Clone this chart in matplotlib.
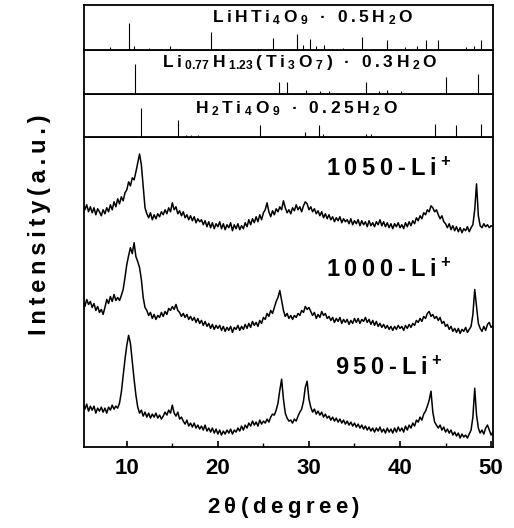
import re
import numpy as np
import matplotlib
matplotlib.use('Agg')
import matplotlib.pyplot as plt

plt.rcParams['font.family'] = ['Liberation Sans', 'DejaVu Sans']
plt.rcParams['mathtext.fontset'] = 'custom'
plt.rcParams['mathtext.rm'] = 'Liberation Sans'
plt.rcParams['mathtext.bf'] = 'Liberation Sans:bold'
plt.rcParams['mathtext.default'] = 'regular'

# scan grid, 2theta from 5.2 to 50.2 in 0.2 deg steps
two_theta = np.round(5.2 + 0.2 * np.arange(226), 1)

# intensities (arbitrary units)
i_1050 = [244, 238, 243, 236, 241, 235, 240, 233, 239, 236,
          232, 238, 234, 240, 236, 243, 238, 246, 241, 249,
          244, 251, 247, 255, 258, 266, 262, 270, 268, 276,
          285, 294, 283, 262, 240, 234, 230, 235, 228, 233,
          229, 234, 231, 236, 233, 238, 234, 240, 236, 245,
          238, 241, 234, 237, 232, 236, 230, 233, 228, 232,
          227, 231, 225, 229, 226, 228, 223, 227, 221, 226,
          220, 225, 219, 224, 221, 226, 219, 224, 218, 223,
          220, 225, 217, 223, 219, 224, 218, 222, 219, 225,
          221, 228, 223, 229, 225, 231, 226, 233, 228, 235,
          238, 245, 236, 231, 237, 233, 239, 236, 241, 238,
          247, 240, 235, 238, 234, 240, 237, 243, 238, 241,
          236, 242, 246, 244, 238, 241, 236, 239, 234, 237,
          232, 236, 230, 234, 229, 233, 228, 231, 226, 230,
          227, 231, 225, 229, 226, 228, 224, 229, 223, 227,
          224, 228, 222, 227, 223, 226, 221, 227, 222, 225,
          221, 226, 223, 228, 222, 226, 221, 225, 220, 224,
          219, 224, 221, 225, 220, 223, 219, 225, 221, 226,
          222, 227, 224, 230, 227, 232, 229, 235, 233, 238,
          236, 242, 240, 236, 238, 233, 229, 232, 226, 224,
          220, 224, 218, 222, 217, 221, 216, 220, 215, 219,
          217, 221, 216, 220, 223, 238, 264, 232, 222, 220,
          224, 221, 223, 220, 222, 221]

i_1000 = [147, 141, 148, 143, 146, 140, 144, 137, 141, 135,
          138, 133, 140, 148, 144, 151, 146, 153, 147, 150,
          147, 152, 158, 170, 183, 192, 200, 194, 205, 191,
          186, 180, 168, 150, 140, 137, 132, 135, 129, 133,
          128, 132, 130, 135, 131, 136, 133, 139, 137, 141,
          138, 143, 137, 135, 131, 134, 130, 133, 128, 131,
          127, 130, 125, 129, 124, 127, 122, 126, 121, 124,
          119, 123, 118, 122, 119, 122, 117, 121, 116, 120,
          117, 121, 115, 120, 118, 122, 117, 121, 118, 123,
          119, 124, 120, 126, 122, 125, 121, 127, 124, 130,
          128, 134, 131, 137, 134, 140, 146, 150, 157, 147,
          137, 131, 134, 129, 132, 128, 132, 130, 134, 132,
          137, 135, 141, 138, 140, 136, 132, 135, 129, 133,
          130, 136, 132, 134, 129, 131, 127, 130, 125, 129,
          126, 130, 124, 128, 125, 128, 123, 127, 124, 129,
          125, 129, 124, 128, 126, 130, 125, 128, 123, 127,
          122, 126, 121, 124, 120, 123, 119, 122, 118, 121,
          117, 121, 118, 122, 119, 121, 117, 122, 119, 123,
          120, 124, 122, 127, 125, 129, 126, 131, 129, 134,
          136, 131, 133, 129, 131, 127, 130, 124, 126, 121,
          123, 118, 121, 116, 119, 115, 119, 114, 118, 116,
          120, 115, 118, 121, 133, 158, 141, 124, 119, 116,
          121, 117, 123, 125, 120, 122]

i_950 = [44, 38, 43, 36, 41, 37, 41, 34, 39, 36,
         40, 35, 39, 34, 40, 37, 42, 38, 41, 39,
         44, 55, 72, 88, 102, 112, 104, 86, 68, 52,
         40, 34, 37, 31, 35, 30, 34, 29, 33, 30,
         34, 29, 32, 28, 31, 35, 32, 37, 34, 42,
         34, 31, 35, 28, 30, 26, 23, 27, 21, 24,
         20, 24, 19, 22, 18, 21, 17, 22, 16, 19,
         15, 19, 14, 18, 13, 17, 12, 16, 13, 17,
         14, 18, 13, 17, 15, 19, 16, 21, 17, 22,
         19, 24, 21, 26, 22, 25, 21, 27, 23, 26,
         24, 28, 25, 30, 33, 32, 37, 44, 57, 68,
         48, 34, 29, 26, 27, 24, 28, 26, 31, 35,
         38, 46, 60, 66, 48, 40, 35, 38, 33, 36,
         32, 35, 30, 33, 29, 31, 27, 30, 26, 29,
         25, 28, 24, 27, 23, 26, 22, 25, 21, 24,
         20, 23, 19, 22, 18, 21, 17, 20, 16, 19,
         15, 19, 16, 20, 15, 18, 14, 19, 15, 18,
         14, 19, 15, 20, 16, 19, 15, 21, 17, 22,
         19, 24, 21, 27, 25, 30, 27, 33, 36, 41,
         47, 56, 35, 25, 22, 19, 22, 17, 20, 15,
         18, 14, 17, 12, 15, 11, 14, 9, 13, 10,
         12, 9, 13, 17, 30, 59, 32, 19, 14, 17,
         13, 19, 22, 17, 12, 15]

# reference patterns: line positions and heights
ref1_pos = [8.2, 10.25, 10.8, 12.4, 14.7, 19.2, 26.0, 28.7, 29.3, 30.1,
            30.8, 31.7, 33.7, 35.8, 38.6, 40.5, 41.9, 42.8, 44.2, 47.2,
            48.1, 48.9]
ref1_h = [3, 26, 4, 2, 4, 18, 12, 16, 5, 11,
          4, 5, 2, 13, 10, 3, 4, 10, 10, 3,
          4, 10]

ref2_pos = [10.9, 26.7, 27.6, 29.7, 31.2, 32.2, 36.3, 37.7, 38.6, 40.1,
            45.0, 48.6]
ref2_h = [30, 12, 12, 4, 3, 3, 12, 3, 4, 3,
          17, 20]

ref3_pos = [11.6, 15.6, 16.5, 17.1, 17.8, 24.6, 29.6, 31.1, 31.5, 36.3,
            36.8, 43.8, 46.1, 48.9]
ref3_h = [30, 17, 2, 2, 2, 12, 5, 12, 3, 3,
          3, 13, 12, 13]

ref_names = ['LiHTi$_4$O$_9$ · 0.5H$_2$O',
             'Li$_{0.77}$H$_{1.23}$(Ti$_3$O$_7$) · 0.3H$_2$O',
             'H$_2$Ti$_4$O$_9$ · 0.25H$_2$O']
sample_names = ['1050-Li$^{+}$', '1000-Li$^{+}$', '950-Li$^{+}$']
x_ticks = [10, 20, 30, 40, 50]


def spaced(s):
    toks = re.findall(r'\$[^$]*\$|.', s)
    return '\u2009'.join(toks)


fig = plt.figure(figsize=(5.14, 5.28), dpi=100)
L, R = 0.1634, 0.959
xlim = (5.3, 50.2)

ax = fig.add_axes([L, 0.1534, R - L, 0.7405 - 0.1534])
ax3 = fig.add_axes([L, 0.7405, R - L, 0.822 - 0.7405])
ax2 = fig.add_axes([L, 0.822, R - L, 0.9053 - 0.822])
ax1 = fig.add_axes([L, 0.9053, R - L, 0.9905 - 0.9053])

for y in [i_1050, i_1000, i_950]:
    ax.plot(two_theta, y, color='black', lw=1.1)

ax.set_xlim(*xlim)
ax.set_ylim(0, 311)
ax.set_yticks([])
ax.set_xticks(x_ticks)
ax.set_xticks([15, 25, 35, 45], minor=True)
ax.tick_params(axis='x', which='major', direction='in', length=4, width=1.2,
               pad=8, labelsize=16)
ax.tick_params(axis='x', which='minor', direction='in', length=3, width=1)
for lab in ax.get_xticklabels():
    lab.set_fontweight('bold')

lab_y = [279, 177, 79]
for name, yy in zip(sample_names, lab_y):
    ax.text(0.745, yy, spaced(name), transform=ax.get_yaxis_transform(),
            ha='center', va='center', fontsize=17, fontweight='bold')

panels = [(ax1, ref1_pos, ref1_h, 0.56, 0.72),
          (ax2, ref2_pos, ref2_h, 0.528, 0.72),
          (ax3, ref3_pos, ref3_h, 0.52, 0.67)]
for (a, pos, h, tx, ty), name in zip(panels, ref_names):
    a.vlines(pos, 0, h, color='black', lw=0.8)
    a.set_xlim(*xlim)
    a.set_ylim(0, 44)
    a.set_xticks([])
    a.set_yticks([])
    a.text(tx, ty, spaced(name), transform=a.transAxes, ha='center',
           va='center', fontsize=12.5, fontweight='bold')

for a in [ax, ax1, ax2, ax3]:
    for sp in a.spines.values():
        sp.set_linewidth(1.3)

fig.text(40 / 514, 1 - 225 / 528, spaced('Intensity(a.u.)'), rotation=90,
         ha='center', va='center', fontsize=17, fontweight='bold')
fig.text(284 / 514, 1 - 508 / 528, spaced('2$\\theta$(degree)'),
         ha='center', va='center', fontsize=16, fontweight='bold')

fig.savefig('out.png', dpi=100)
